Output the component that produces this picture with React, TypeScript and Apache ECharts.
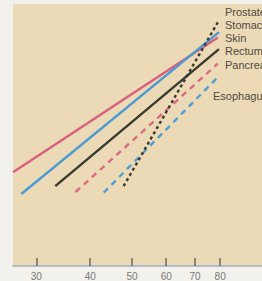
import React, { useEffect, useRef } from "react";
import * as echarts from "echarts";

// Ages (x, log scale) and log10 incidence (y) for each site
const tickAges = [30, 40, 50, 60, 70, 80];

const prostateAges = [47.8, 79];
const prostateRates = [1.22, 3.72];
const stomachAges = [27.7, 79.5];
const stomachRates = [1.1, 3.57];
const skinAges = [26.5, 79];
const skinRates = [1.43, 3.49];
const rectumAges = [33.2, 79.5];
const rectumRates = [1.22, 3.31];
const pancreasAges = [37, 79];
const pancreasRates = [1.13, 3.09];
const esophagusAges = [43, 79.5];
const esophagusRates = [1.12, 2.9];

const labels = ["Prostate", "Stomach", "Skin", "Rectum", "Pancreas", "Esophagus"];

const toPoints = (ages: number[], rates: number[]) =>
  ages.map((a, i) => [Math.log10(a), rates[i]]);

export default function App() {
  const ref = useRef<HTMLDivElement>(null);
  useEffect(() => {
    if (!ref.current) return;
    const chart = echarts.init(ref.current, undefined, { renderer: "svg" });
    const mk = (name: string, ages: number[], rates: number[], color: string, type: any) => ({
      name,
      type: "line",
      data: toPoints(ages, rates),
      showSymbol: false,
      symbol: "none",
      lineStyle: { color, width: 2.4, type, cap: "butt" },
    });
    const labelPos = [
      [225, 12],
      [225, 25],
      [225, 38],
      [225, 51],
      [225, 65],
      [213, 96],
    ];
    chart.setOption({
      animation: false,
      backgroundColor: "#f3f1ec",
      grid: {
        left: 13,
        right: 0,
        top: 4,
        bottom: 9,
        show: true,
        backgroundColor: "#ebdab5",
        borderWidth: 0,
      },
      xAxis: {
        type: "value",
        min: Math.log10(26.5),
        max: 2,
        splitLine: { show: false },
        axisLine: { show: true, lineStyle: { color: "#9fb0bf", width: 1.5 } },
        axisTick: {
          show: true,
          inside: true,
          length: 8,
          lineStyle: { color: "#6a6a60", width: 1.5 },
          customValues: tickAges.map((a) => Math.log10(a)),
        },
        axisLabel: {
          show: true,
          margin: 5,
          fontSize: 10,
          color: "#777",
          fontFamily: "Liberation Sans",
          customValues: tickAges.map((a) => Math.log10(a)),
          formatter: (v: number) => String(Math.round(Math.pow(10, v))),
        },
      },
      yAxis: {
        type: "value",
        min: 0,
        max: 4,
        show: false,
        splitLine: { show: false },
      },
      series: [
        mk("Skin", skinAges, skinRates, "#d8607c", "solid"),
        mk("Stomach", stomachAges, stomachRates, "#4b9ad4", "solid"),
        mk("Rectum", rectumAges, rectumRates, "#3a3a32", "solid"),
        mk("Pancreas", pancreasAges, pancreasRates, "#de6a80", [6, 5]),
        mk("Esophagus", esophagusAges, esophagusRates, "#4f9fd6", [6, 5]),
        mk("Prostate", prostateAges, prostateRates, "#3a3a32", [3, 3]),
      ],
      graphic: labels.map((t, i) => ({
        type: "text",
        x: labelPos[i][0],
        y: labelPos[i][1],
        style: {
          text: t,
          fill: "#4e4b44",
          font: "11px 'Liberation Sans'",
          verticalAlign: "middle",
        },
      })),
    });
    return () => chart.dispose();
  }, []);
  return (
    <div
      ref={ref}
      style={{ position: "fixed", left: 0, top: 0, width: 262, height: 281 }}
    />
  );
}
